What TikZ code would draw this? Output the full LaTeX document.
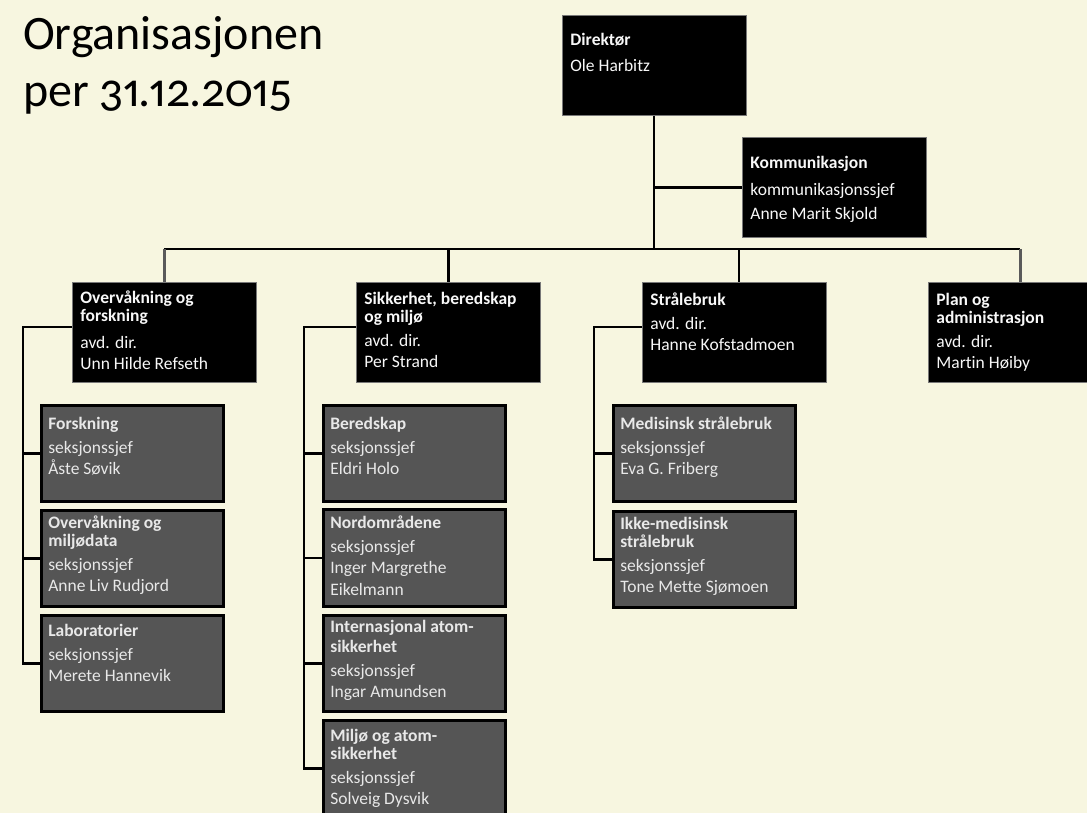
\documentclass[tikz,border=0pt]{standalone}
\usepackage{fontspec}
\setmainfont[Ligatures=NoCommon]{Carlito}
\newfontfamily\titlefont[Numbers={OldStyle,Proportional}]{Carlito}
\usetikzlibrary{calc}
\definecolor{bg}{RGB}{247,246,224}
\definecolor{subfill}{RGB}{85,85,85}
\definecolor{txtw}{RGB}{248,248,248}
\definecolor{txtg}{RGB}{232,232,232}
\definecolor{edge}{RGB}{120,120,120}
\definecolor{dropgray}{RGB}{90,90,90}
\newcommand{\boxtext}[6][21.5]{%
\parbox[c][#2][t]{168pt}{\raggedright\hyphenpenalty=10000\exhyphenpenalty=10000\vspace*{#3}%
{\fontsize{17.5}{#4}\selectfont\bfseries\rule{0pt}{15pt}#5\par}%
\vspace{2.5pt}%
{\fontsize{17.5}{#1}\selectfont #6\par}}}
\tikzset{
  lvl/.style={draw=edge, line width=0.8pt, fill=black, text=txtw, anchor=north west,
    inner xsep=8pt, inner ysep=0pt, minimum width=184pt},
  sub/.style={draw=black, line width=2.6pt, fill=subfill, text=txtg, anchor=north west,
    inner xsep=7pt, inner ysep=0pt, minimum width=181pt},
  conn/.style={draw=black, line width=2.6pt},
  conngray/.style={draw=dropgray, line width=2.6pt},
  ttl/.style={anchor=base west, inner sep=0pt, font=\titlefont\fontsize{48}{57}\selectfont}
}
\begin{document}
\begin{tikzpicture}[x=1pt,y=-1pt]
\fill[bg] (0,0) rectangle (1087,813);
\clip (0,0) rectangle (1087,813);
\useasboundingbox (0,0) rectangle (1087,813);

\node[ttl] (t1) at (23,50) {Organisasjonen};
\node[ttl] (t2) at (23,107) {per 31.12.2015};

% top level
\node[lvl] (dir) at (562,15) {\boxtext[24]{100pt}{15pt}{18}{Direktør}{Ole Harbitz}};
\node[lvl] (komm) at (742,137) {\boxtext[24.5]{100pt}{16pt}{18}{Kommunikasjon}{kommunikasjonssjef\\Anne Marit Skjold}};

% departments
\node[lvl] (ovf) at (72,282) {\boxtext{100pt}{6pt}{18}{Overvåkning og\\forskning\vspace{3pt}}{avd. dir.\\Unn Hilde Refseth}};
\node[lvl] (sbm) at (356,282) {\boxtext{100pt}{7pt}{18}{Sikkerhet, beredskap\\og miljø}{avd. dir.\\Per Strand}};
\node[lvl] (sb) at (642,282) {\boxtext{100pt}{8pt}{18}{Strålebruk}{avd. dir.\\Hanne Kofstadmoen}};
\node[lvl] (plan) at (928,282) {\boxtext{100pt}{8pt}{18}{Plan og\\administrasjon}{avd. dir.\\Martin Høiby}};

% sections column 1
\node[sub] (fors) at (40,404) {\boxtext{96pt}{9pt}{18}{Forskning}{seksjonssjef\\Åste Søvik}};
\node[sub] (omd) at (40,509) {\boxtext{96pt}{3pt}{18}{Overvåkning og\\miljødata}{seksjonssjef\\Anne Liv Rudjord}};
\node[sub] (lab) at (40,614) {\boxtext{96pt}{6pt}{18}{Laboratorier}{seksjonssjef\\Merete Hannevik}};

% sections column 2
\node[sub] (bered) at (322,404) {\boxtext{96pt}{9pt}{18}{Beredskap}{seksjonssjef\\Eldri Holo}};
\node[sub] (nord) at (322,508) {\boxtext{97pt}{4pt}{18}{Nordområdene}{seksjonssjef\\Inger Margrethe\\Eikelmann}};
\node[sub] (intl) at (322,614) {\boxtext{96pt}{2pt}{20}{Internasjonal atom-\\sikkerhet}{seksjonssjef\\Ingar Amundsen}};
\node[sub] (milj) at (322,719) {\boxtext{96pt}{6pt}{18}{Miljø og atom-\\sikkerhet}{seksjonssjef\\Solveig Dysvik}};

% sections column 3
\node[sub] (med) at (612,404) {\boxtext{96pt}{9pt}{18}{Medisinsk strålebruk}{seksjonssjef\\Eva G. Friberg}};
\node[sub] (ikke) at (612,510) {\boxtext{96pt}{3pt}{18}{Ikke-medisinsk\\strålebruk}{seksjonssjef\\Tone Mette Sjømoen}};

% connectors, top
\coordinate (bus) at (654,249);
\coordinate (kj) at (bus |- komm.west);
\draw[conn] (dir.south -| bus) -- (bus);
\draw[conn] (kj) -- (komm.west);
\draw[conn] (ovf.north |- bus) -- (plan.north |- bus);
\draw[conngray] (ovf.north |- bus) -- (ovf.north);
\draw[conn] (sbm.north |- bus) -- (sbm.north);
\coordinate (sbdrop) at (739,282);
\draw[conn] (sbdrop |- bus) -- (sbdrop);
\draw[conngray] (plan.north |- bus) -- (plan.north);

% spines
\coordinate (sp1) at (23,327);
\coordinate (sp2) at (304,327);
\coordinate (sp3) at (594,327);
\draw[conn] (ovf.west |- sp1) -- (sp1) |- (lab.west);
\draw[conn] (sp1 |- fors.west) -- (fors.west);
\draw[conn] (sp1 |- omd.west) -- (omd.west);
\draw[conn] (sbm.west |- sp2) -- (sp2) |- (milj.west);
\draw[conn] (sp2 |- bered.west) -- (bered.west);
\draw[conn] (sp2 |- nord.west) -- (nord.west);
\draw[conn] (sp2 |- intl.west) -- (intl.west);
\draw[conn] (sb.west |- sp3) -- (sp3) |- (ikke.west);
\draw[conn] (sp3 |- med.west) -- (med.west);
\end{tikzpicture}
\end{document}
